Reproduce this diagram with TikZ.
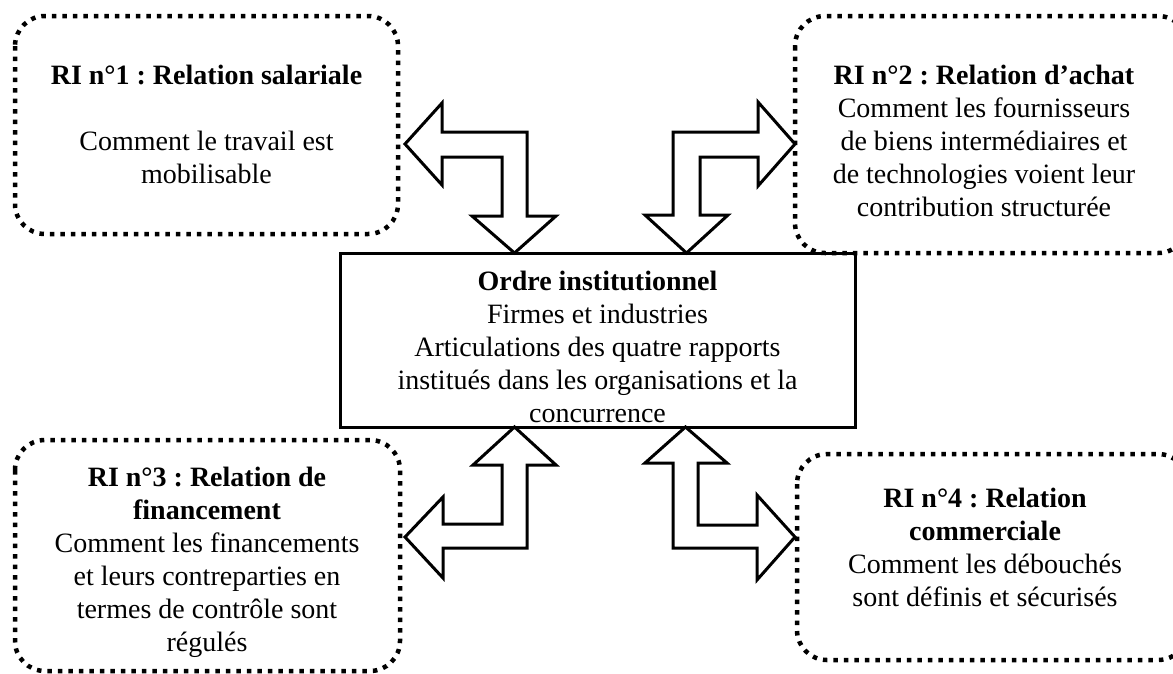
\documentclass[tikz,border=0pt]{standalone}
\usepackage{fontspec}
\setmainfont{Liberation Serif}
\frenchspacing
\begin{document}
\begin{tikzpicture}[x=1pt,y=-1pt,
  dotbox/.style={draw=black,line width=4.5pt,dash pattern=on 4.5pt off 6pt,rounded corners=30pt},
  txt/.style={align=center,font=\fontsize{28}{33}\selectfont,inner sep=0pt},
  blockarrow/.style={draw=black,fill=white,line width=3pt,line join=miter}]
\useasboundingbox (0,0) rectangle (1173,673);
\clip (0,0) rectangle (1173,673);
% dotted boxes
\draw[dotbox] (15,16) rectangle (398,234);
\draw[dotbox] (795,16) rectangle (1188,253);
\draw[dotbox] (15,440) rectangle (400,671);
\draw[dotbox] (797,454) rectangle (1188,660);
% center box
\node[draw=black,line width=3pt,minimum width=515pt,minimum height=174pt,inner sep=0pt] (c) at (597.5,340) {};
% texts
\node[txt] (t1) at (206.5,124) {\textbf{RI n°1 : Relation salariale}\\[33pt]Comment le travail est\\mobilisable};
\node[txt] (t2) at (984,141) {\textbf{RI n°2 : Relation d’achat}\\Comment les fournisseurs\\de biens intermédiaires et\\de technologies voient leur\\contribution structurée};
\node[txt] (tc) at (597.5,347) {\textbf{Ordre institutionnel}\\Firmes et industries\\Articulations des quatre rapports\\institués dans les organisations et la\\concurrence};
\node[txt] (t3) at (207,562) {\textbf{RI n°3 : Relation de}\\\textbf{financement}\\Comment les financements\\et leurs contreparties en\\termes de contrôle sont\\régulés};
\node[txt] (t4) at (985,547) {\textbf{RI n°4 : Relation}\\\textbf{commerciale}\\Comment les débouchés\\sont définis et sécurisés};
% block arrows
\draw[blockarrow] (405,144) -- (442,103) -- (442,132) -- (527,132) -- (527,216) -- (556,216) -- (514.5,253) -- (472,216) -- (502,216) -- (502,157) -- (442,157) -- (442,185) -- cycle;
\draw[blockarrow] (795,144) -- (758,102) -- (758,132) -- (673,132) -- (673,215) -- (645,215) -- (686.5,253) -- (728,215) -- (700,215) -- (700,157) -- (758,157) -- (758,186) -- cycle;
\draw[blockarrow] (514.5,427) -- (556,465) -- (527,465) -- (527,548) -- (443,548) -- (443,578) -- (405,537) -- (443,497) -- (443,524) -- (502,524) -- (502,465) -- (473,465) -- cycle;
\draw[blockarrow] (685.5,427) -- (727,463) -- (698,463) -- (698,525) -- (757,525) -- (757,495) -- (795,537) -- (757,580) -- (757,548) -- (673,548) -- (673,463) -- (645,463) -- cycle;
\end{tikzpicture}
\end{document}
